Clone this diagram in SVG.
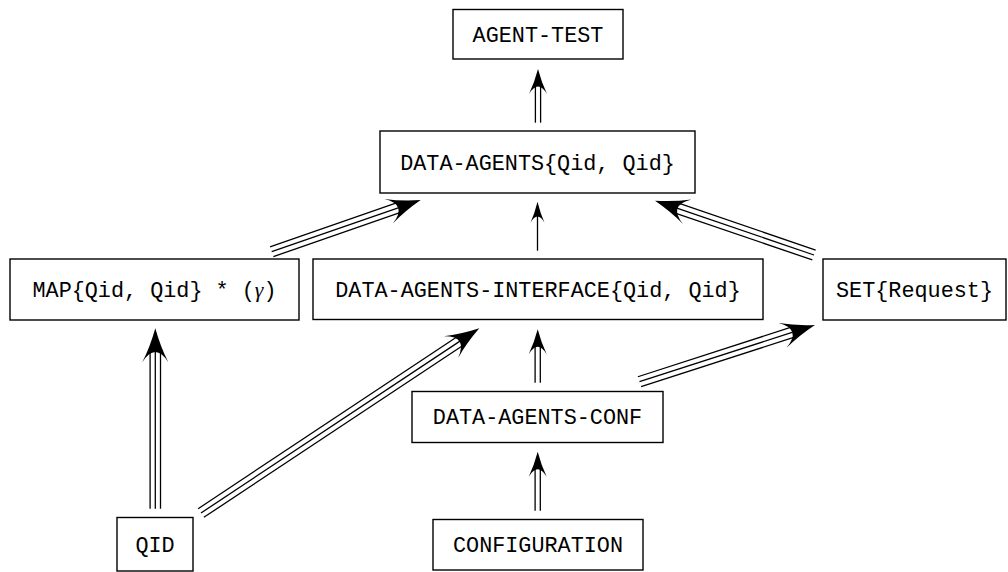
<svg xmlns="http://www.w3.org/2000/svg" width="1008" height="572" viewBox="0 0 1008 572">
<style>
.box rect{fill:#fff;stroke:#000;stroke-width:1.4}
.box text{font-family:"Liberation Mono","DejaVu Sans Mono",monospace;font-size:21.8px;text-anchor:middle;fill:#000}
.gm{font-family:"Liberation Serif","DejaVu Serif",serif;font-style:italic}
#connectors line{stroke:#000;stroke-width:1.3;fill:none}
#connectors use{fill:#000}
</style>
<defs>
<path id="h1" d="M0,0 Q-11.55,2.8 -21,7 Q-8.4,0 -21,-7 Q-11.55,-2.8 0,0Z"/>
<path id="h2" d="M0,0 Q-13.75,3.6 -25,9 Q-10,0 -25,-9 Q-13.75,-3.6 0,0Z"/>
<path id="h3" d="M0,0 Q-18.7,5.2 -34,13 Q-13.6,0 -34,-13 Q-18.7,-5.2 0,0Z"/>
</defs>
<g id="connectors">
 <g transform="translate(538,122.7) rotate(-90)">
  <line x1="0" y1="-2.6" x2="38.7" y2="-2.6"/><line x1="0" y1="2.6" x2="38.7" y2="2.6"/>
  <use href="#h2" x="53.7"/>
 </g>
 <g transform="translate(537.5,250.7) rotate(-90)">
  <line x1="0" y1="0" x2="37" y2="0"/>
  <use href="#h1" x="49"/>
 </g>
 <g transform="translate(271.7,251.7) rotate(-19.13)">
  <line x1="0" y1="-5.2" x2="137.7" y2="-5.2"/><line x1="0" y1="0" x2="137.7" y2="0"/><line x1="0" y1="5.2" x2="137.7" y2="5.2"/>
  <use href="#h3" x="157.7"/>
 </g>
 <g transform="translate(814,255) rotate(-161.14)">
  <line x1="0" y1="-5.2" x2="148" y2="-5.2"/><line x1="0" y1="0" x2="148" y2="0"/><line x1="0" y1="5.2" x2="148" y2="5.2"/>
  <use href="#h3" x="168"/>
 </g>
 <g transform="translate(155.3,508.7) rotate(-90)">
  <line x1="0" y1="-5.2" x2="160.4" y2="-5.2"/><line x1="0" y1="0" x2="160.4" y2="0"/><line x1="0" y1="5.2" x2="160.4" y2="5.2"/>
  <use href="#h3" x="180.4"/>
 </g>
 <g transform="translate(201,513) rotate(-33.57)">
  <line x1="0" y1="-5.2" x2="314" y2="-5.2"/><line x1="0" y1="0" x2="314" y2="0"/><line x1="0" y1="5.2" x2="314" y2="5.2"/>
  <use href="#h3" x="334"/>
 </g>
 <g transform="translate(537.7,382.7) rotate(-90)">
  <line x1="0" y1="-2.6" x2="38.4" y2="-2.6"/><line x1="0" y1="2.6" x2="38.4" y2="2.6"/>
  <use href="#h2" x="53.4"/>
 </g>
 <g transform="translate(639.5,381.7) rotate(-17.9)">
  <line x1="0" y1="-5.2" x2="164.4" y2="-5.2"/><line x1="0" y1="0" x2="164.4" y2="0"/><line x1="0" y1="5.2" x2="164.4" y2="5.2"/>
  <use href="#h3" x="184.4"/>
 </g>
 <g transform="translate(537.7,510.7) rotate(-90)">
  <line x1="0" y1="-2.6" x2="44" y2="-2.6"/><line x1="0" y1="2.6" x2="44" y2="2.6"/>
  <use href="#h2" x="59"/>
 </g>
</g>
<g id="agent-test" class="box"><rect x="453" y="9.5" width="170" height="49.5"/><text x="538" y="41.5">AGENT-TEST</text></g>
<g id="data-agents" class="box"><rect x="380" y="131" width="315" height="62"/><text x="537.5" y="169.5">DATA-AGENTS{Qid, Qid}</text></g>
<g id="map" class="box"><rect x="10" y="259" width="289" height="61"/><text x="154.5" y="297">MAP{Qid, Qid} * (<tspan class="gm">γ</tspan>)</text></g>
<g id="data-agents-interface" class="box"><rect x="313" y="259" width="450" height="60.5"/><text x="538" y="297">DATA-AGENTS-INTERFACE{Qid, Qid}</text></g>
<g id="set" class="box"><rect x="823" y="259" width="183" height="61"/><text x="914.5" y="297">SET{Request}</text></g>
<g id="data-agents-conf" class="box"><rect x="412" y="391.5" width="251" height="51"/><text x="537.5" y="424.3">DATA-AGENTS-CONF</text></g>
<g id="qid" class="box"><rect x="117" y="517.5" width="76" height="53.5"/><text x="155" y="551.8">QID</text></g>
<g id="configuration" class="box"><rect x="433" y="519.5" width="210" height="50.5"/><text x="538" y="552">CONFIGURATION</text></g>
</svg>
